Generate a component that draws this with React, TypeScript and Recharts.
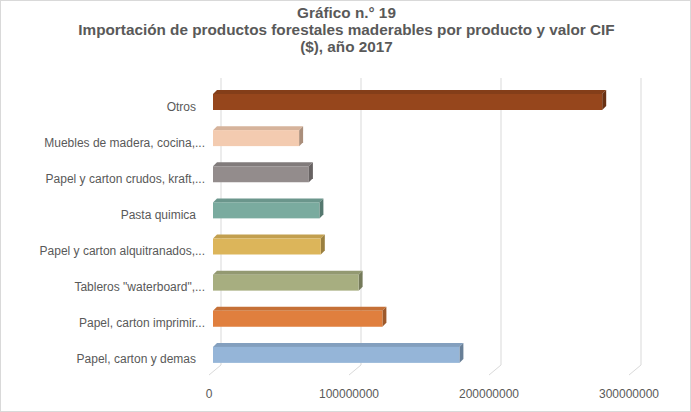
import React from "react";
import { Bar, BarChart, CartesianGrid, Cell, XAxis, YAxis } from "recharts";

const products = [
  "Otros",
  "Muebles de madera, cocina,...",
  "Papel y carton crudos, kraft,...",
  "Pasta quimica",
  "Papel y carton alquitranados,...",
  'Tableros "waterboard",...',
  "Papel, carton imprimir...",
  "Papel, carton y demas",
];

const cifValues = [
  278000000, 61500000, 68500000, 76000000, 77000000, 104000000, 121000000, 176000000,
];

const barColors = [
  "#96461c",
  "#f3cbb0",
  "#938c8c",
  "#7aab9f",
  "#dcb55a",
  "#a7ae80",
  "#e07f3e",
  "#95b5d8",
];

const xTicks = [0, 100000000, 200000000, 300000000];

const data = products.map((name, i) => ({ name, value: cifValues[i] }));

const DEPTH = 4;

function shade(hex: string, f: number) {
  const n = parseInt(hex.slice(1), 16);
  const ch = [(n >> 16) & 255, (n >> 8) & 255, n & 255].map((c) =>
    f < 0 ? Math.round(c * (1 + f)) : Math.round(c + (255 - c) * f)
  );
  return `rgb(${ch[0]},${ch[1]},${ch[2]})`;
}

// 3D-looking bar: front face, lighter top, darker right side
function Bar3D(props: any) {
  const { x, y, width, height, fill } = props;
  if (width == null || width <= 0) return null;
  const fx = x + DEPTH;
  const d = DEPTH;
  return (
    <g>
      <polygon
        points={`${fx},${y} ${fx + d},${y - d} ${fx + width + d},${y - d} ${fx + width},${y}`}
        fill={shade(fill, -0.12)}
      />
      <polygon
        points={`${fx + width},${y} ${fx + width + d},${y - d} ${fx + width + d},${y + height - d} ${fx + width},${y + height}`}
        fill={shade(fill, -0.3)}
      />
      <rect x={fx} y={y} width={width} height={height} fill={fill} />
    </g>
  );
}

// back-wall gridline with a slanted floor segment
function GridLine3D(props: any) {
  const { x1, y1, y2 } = props;
  return (
    <path
      d={`M${x1 + 12},${y1 - 6} L${x1 + 12},${y2 - 8} L${x1},${y2 + 2}`}
      stroke="#d9d9d9"
      strokeWidth={1}
      fill="none"
    />
  );
}

function CategoryTick(props: any) {
  const { x, y, payload } = props;
  const label: string = payload.value;
  const endX = label.endsWith("...") ? x + 4 : x - 5;
  return (
    <text
      x={endX}
      y={y}
      dy={8.5}
      textAnchor="end"
      fontSize={12}
      fill="#595959"
      fontFamily="Liberation Sans, Arial, sans-serif"
    >
      {label}
    </text>
  );
}

export default function App() {
  return (
    <div
      style={{
        position: "absolute",
        left: 0,
        top: 0,
        width: 691,
        height: 412,
        background: "#fff",
        boxSizing: "border-box",
        border: "1px solid #d9d9d9",
        fontFamily: "Liberation Sans, Arial, sans-serif",
      }}
    >
      <div
        style={{
          position: "absolute",
          top: 3,
          left: 0,
          width: 691,
          textAlign: "center",
          color: "#595959",
          fontWeight: "bold",
          fontSize: 15.3,
          lineHeight: "17px",
        }}
      >
        <div>Gráfico n.° 19</div>
        <div>Importación de productos forestales maderables por producto y valor CIF</div>
        <div>($), año 2017</div>
      </div>
      <div style={{ position: "absolute", left: -1, top: -1 }}>
        <BarChart
          width={691}
          height={412}
          data={data}
          layout="vertical"
          margin={{ top: 84, right: 62, bottom: 9, left: 0 }}
        >
          <CartesianGrid horizontal={false} vertical={GridLine3D} />
          <XAxis
            type="number"
            domain={[0, 300000000]}
            ticks={xTicks}
            axisLine={false}
            tickLine={false}
            height={30}
            interval={0}
            tick={{ fontSize: 12, fill: "#595959", fontFamily: "Liberation Sans, Arial, sans-serif" }}
            tickMargin={10}
          />
          <YAxis
            type="category"
            dataKey="name"
            width={209}
            axisLine={false}
            tickLine={false}
            interval={0}
            tick={CategoryTick}
          />
          <Bar dataKey="value" barSize={16} shape={Bar3D} isAnimationActive={false}>
            {data.map((d, i) => (
              <Cell key={d.name} fill={barColors[i]} />
            ))}
          </Bar>
        </BarChart>
      </div>
    </div>
  );
}
